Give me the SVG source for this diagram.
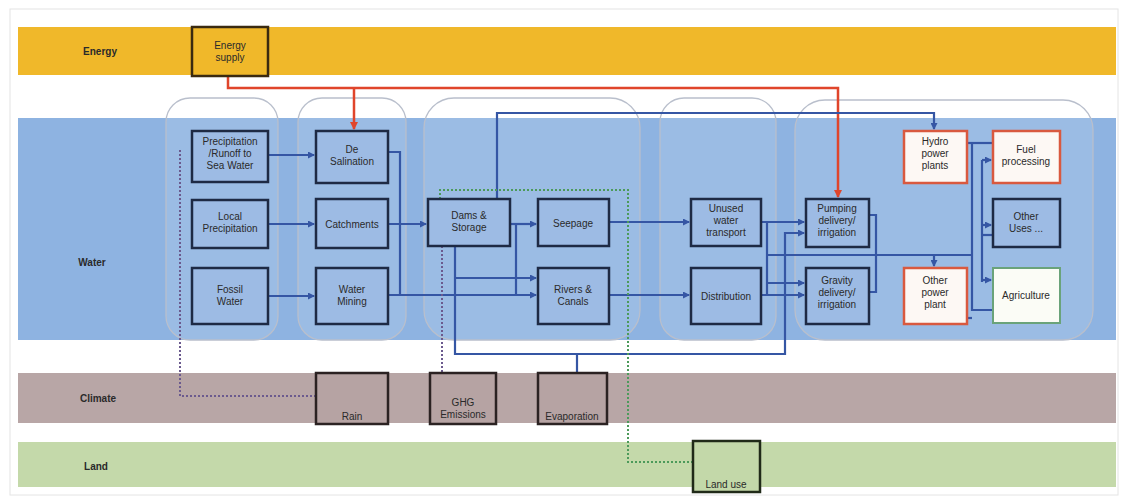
<svg xmlns="http://www.w3.org/2000/svg" width="1122" height="500" viewBox="0 0 1122 500">
<style>
text{font-family:"Liberation Sans",Arial,sans-serif;font-size:10px;fill:#2a2a2a;text-anchor:middle}
.lane{font-weight:bold;font-size:10px}
.bn{fill:#9dbbe4;stroke:#1e2a44;stroke-width:2.5}
.wn{fill:#fdf8f4;stroke:#d9593f;stroke-width:2.5}
.gn{fill:#fbfcf6;stroke:#6aa37a;stroke-width:2}
.cn{fill:#b6a3a3;stroke:#2b2222;stroke-width:2.5}
.en{fill:#f0b82a;stroke:#3a2a10;stroke-width:2.5}
.ln{fill:#c3d8a9;stroke:#202a18;stroke-width:2.5}
.grp{fill:#ffffff;fill-opacity:0.12;stroke:#b9bfcc;stroke-width:1.3}
.b{fill:none;stroke:#3556a4;stroke-width:2.2}
.r{fill:none;stroke:#e0452b;stroke-width:2.5}
.dp{fill:none;stroke:#6b5a8e;stroke-width:2;stroke-dasharray:2 2}
.dg{fill:none;stroke:#4c9a5a;stroke-width:2;stroke-dasharray:2 2}
</style>
<defs>
<marker id="ab" markerWidth="7" markerHeight="7" refX="6" refY="3.5" orient="auto" markerUnits="userSpaceOnUse"><path d="M0,0 L7,3.5 L0,7 z" fill="#3556a4"/></marker>
<marker id="ar" markerWidth="8" markerHeight="8" refX="7" refY="4" orient="auto" markerUnits="userSpaceOnUse"><path d="M0,0 L8,4 L0,8 z" fill="#e0452b"/></marker>
</defs>
<rect x="0" y="0" width="1122" height="500" fill="#ffffff"/>
<rect x="10" y="9" width="1108" height="486" fill="none" stroke="#e4e4e4" stroke-width="1"/>
<g id="lanes">
<rect x="18" y="27" width="1098" height="48" fill="#f0b82a"/>
<rect x="18" y="118" width="1098" height="222" fill="#8eb3e1"/>
<rect x="18" y="373" width="1098" height="50" fill="#b8a6a6"/>
<rect x="18" y="442" width="1098" height="45" fill="#c4d9aa"/>
<text class="lane" x="100" y="55">Energy</text>
<text class="lane" x="92" y="266">Water</text>
<text class="lane" x="98" y="402">Climate</text>
<text class="lane" x="96" y="470">Land</text>
</g>
<g id="groups">
<rect class="grp" x="166" y="98" width="112" height="242" rx="24"/>
<rect class="grp" x="298" y="98" width="108" height="242" rx="24"/>
<rect class="grp" x="424" y="98" width="216" height="242" rx="30"/>
<rect class="grp" x="660" y="98" width="116" height="242" rx="24"/>
<rect class="grp" x="795" y="100" width="298" height="240" rx="30"/>
</g>
<g id="connectors">
<path class="r" d="M228,76 V88 H838 V197" marker-end="url(#ar)"/>
<path class="r" d="M354,88 V129" marker-end="url(#ar)"/>
<path class="b" d="M268,155 H314" marker-end="url(#ab)"/>
<path class="b" d="M268,224 H314" marker-end="url(#ab)"/>
<path class="b" d="M268,296 H314" marker-end="url(#ab)"/>
<path class="b" d="M388,224 H426" marker-end="url(#ab)"/>
<path class="b" d="M388,152 H400 V295"/>
<path class="b" d="M388,295 H536" marker-end="url(#ab)"/>
<path class="b" d="M510,224 H536" marker-end="url(#ab)"/>
<path class="b" d="M516,224 V295"/>
<path class="b" d="M455,278 H536" marker-end="url(#ab)"/>
<path class="b" d="M455,246 V354 H785 V233 H804" marker-end="url(#ab)"/>
<path class="b" d="M577,354 V373"/>
<path class="b" d="M497,199 V113 H934 V129" marker-end="url(#ab)"/>
<path class="b" d="M609,222 H689" marker-end="url(#ab)"/>
<path class="b" d="M609,295 H689" marker-end="url(#ab)"/>
<path class="b" d="M761,222 H804" marker-end="url(#ab)"/>
<path class="b" d="M761,295 H804" marker-end="url(#ab)"/>
<path class="b" d="M767,222 V295"/>
<path class="b" d="M767,283 H804" marker-end="url(#ab)"/>
<path class="b" d="M767,255 H972"/>
<path class="b" d="M934,255 V266" marker-end="url(#ab)"/>
<path class="b" d="M869,215 H876 V292 H869"/>
<path class="b" d="M967,143 H993"/>
<path class="b" d="M972,143 V310 H993"/>
<path class="b" d="M967,318 H972"/>
<path class="b" d="M982,160 V282"/>
<path class="b" d="M982,160 H991" marker-end="url(#ab)"/>
<path class="b" d="M982,225 H991" marker-end="url(#ab)"/>
<path class="b" d="M982,235 H993"/>
<path class="b" d="M982,280 H991" marker-end="url(#ab)"/>
<path class="dp" d="M180,150 V396 H316"/>
<path class="dp" d="M442,246 V373"/>
<path class="dg" d="M440,199 V190 H628 V462 H693"/>
</g>
<g id="energy-supply"><rect class="en" x="192" y="27" width="76" height="49"/><text x="230" y="49">Energy<tspan x="230" dy="12">supply</tspan></text></g>
<g id="precipitation"><rect class="bn" x="192" y="131" width="76" height="51"/><text x="230" y="145">Precipitation<tspan x="230" dy="12">/Runoff to</tspan><tspan x="230" dy="12">Sea Water</tspan></text></g>
<g id="local-precipitation"><rect class="bn" x="192" y="200" width="76" height="48"/><text x="230" y="220">Local<tspan x="230" dy="12">Precipitation</tspan></text></g>
<g id="fossil-water"><rect class="bn" x="192" y="268" width="76" height="56"/><text x="230" y="293">Fossil<tspan x="230" dy="12">Water</tspan></text></g>
<g id="desalination"><rect class="bn" x="316" y="131" width="72" height="52"/><text x="352" y="153">De<tspan x="352" dy="12">Salination</tspan></text></g>
<g id="catchments"><rect class="bn" x="316" y="199" width="72" height="49"/><text x="352" y="228">Catchments</text></g>
<g id="water-mining"><rect class="bn" x="316" y="268" width="72" height="56"/><text x="352" y="293">Water<tspan x="352" dy="12">Mining</tspan></text></g>
<g id="dams-storage"><rect class="bn" x="428" y="199" width="82" height="47"/><text x="469" y="219">Dams &amp;<tspan x="469" dy="12">Storage</tspan></text></g>
<g id="seepage"><rect class="bn" x="538" y="199" width="71" height="47"/><text x="573" y="227">Seepage</text></g>
<g id="rivers-canals"><rect class="bn" x="538" y="268" width="71" height="56"/><text x="573" y="293">Rivers &amp;<tspan x="573" dy="12">Canals</tspan></text></g>
<g id="unused-water-transport"><rect class="bn" x="691" y="199" width="70" height="47"/><text x="726" y="212">Unused<tspan x="726" dy="12">water</tspan><tspan x="726" dy="12">transport</tspan></text></g>
<g id="distribution"><rect class="bn" x="691" y="268" width="70" height="56"/><text x="726" y="300">Distribution</text></g>
<g id="pumping"><rect class="bn" x="806" y="199" width="63" height="48"/><text x="837" y="212">Pumping<tspan x="837" dy="12">delivery/</tspan><tspan x="837" dy="12">irrigation</tspan></text></g>
<g id="gravity"><rect class="bn" x="806" y="268" width="63" height="56"/><text x="837" y="284">Gravity<tspan x="837" dy="12">delivery/</tspan><tspan x="837" dy="12">irrigation</tspan></text></g>
<g id="hydro"><rect class="wn" x="904" y="131" width="63" height="52"/><text x="935" y="145">Hydro<tspan x="935" dy="12">power</tspan><tspan x="935" dy="12">plants</tspan></text></g>
<g id="fuel-processing"><rect class="wn" x="993" y="131" width="67" height="52"/><text x="1026" y="153">Fuel<tspan x="1026" dy="12">processing</tspan></text></g>
<g id="other-uses"><rect class="bn" x="993" y="199" width="67" height="48"/><text x="1026" y="220">Other<tspan x="1026" dy="12">Uses ...</tspan></text></g>
<g id="other-power-plant"><rect class="wn" x="904" y="268" width="63" height="56"/><text x="935" y="284">Other<tspan x="935" dy="12">power</tspan><tspan x="935" dy="12">plant</tspan></text></g>
<g id="agriculture"><rect class="gn" x="993" y="268" width="67" height="55"/><text x="1026" y="299">Agriculture</text></g>
<g id="rain"><rect class="cn" x="316" y="373" width="72" height="51"/><text x="352" y="420">Rain</text></g>
<g id="ghg"><rect class="cn" x="430" y="373" width="66" height="51"/><text x="463" y="406">GHG<tspan x="463" dy="12">Emissions</tspan></text></g>
<g id="evaporation"><rect class="cn" x="538" y="373" width="69" height="51"/><text x="572" y="420">Evaporation</text></g>
<g id="land-use"><rect class="ln" x="693" y="441" width="67" height="51"/><text x="726" y="488">Land use</text></g>
</svg>
